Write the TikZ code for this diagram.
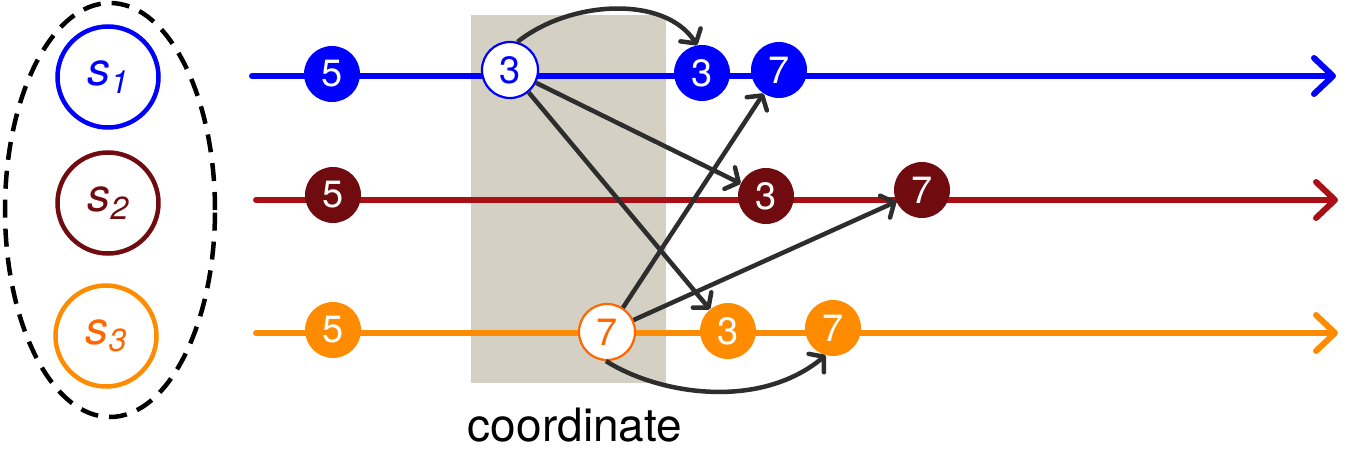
\documentclass[tikz,border=0pt]{standalone}
\usepackage{fontspec}
\setmainfont{TeX Gyre Heros}
\usetikzlibrary{arrows.meta,shapes.geometric}
\definecolor{pblue}{RGB}{0,0,255}
\definecolor{pred}{RGB}{168,16,22}
\definecolor{pmaroon}{RGB}{112,12,16}
\definecolor{porange}{RGB}{255,140,0}
\definecolor{porangetxt}{RGB}{255,102,0}
\definecolor{pgrey}{RGB}{212,208,196}
\definecolor{pdark}{RGB}{45,45,45}
\tikzset{
  proc/.style={circle,line width=4.5pt,minimum size=101pt,inner sep=0pt,
    font=\fontsize{46}{50}\selectfont\itshape},
  ev/.style={circle,minimum size=56pt,inner sep=0pt,text=white,
    font=\fontsize{38}{42}\selectfont},
  hollow/.style={circle,minimum size=56pt,inner sep=0pt,fill=white,line width=2.2pt,
    font=\fontsize{38}{42}\selectfont},
  timeline/.style={line width=6pt,line cap=round,
    -{Straight Barb[length=19pt,width=36pt,line cap=round,line join=round]}},
  msg/.style={pdark,line width=4.5pt,
    -{Straight Barb[length=10pt,width=24pt,line cap=round,line join=round]}}
}
\newcommand{\procname}[1]{s\raisebox{-0.3ex}{\fontsize{32}{32}\selectfont #1}}
\begin{document}
\begin{tikzpicture}[x=1pt,y=-1pt]
\useasboundingbox (0,0) rectangle (1346,449);

% coordination window
\fill[pgrey] (471,15) rectangle (666,383);
\node[font=\fontsize{46}{50}\selectfont,anchor=base,inner sep=0pt] (coordlabel) at (575,441) {coordinate};

% process group
\node[ellipse,draw,dashed,line width=4.5pt,dash pattern=on 18pt off 11pt,
  minimum width=210pt,minimum height=414pt,inner sep=0pt] (group) at (110,210) {};
\node[proc,draw=pblue,text=pblue] (p1) at (108,77) {\procname{1}};
\node[proc,draw=pmaroon,text=pmaroon] (p2) at (108,203) {\procname{2}};
\node[proc,draw=porange,text=porangetxt] (p3) at (106,336) {\procname{3}};

% timelines
\coordinate (l1s) at (252,76);  \coordinate (l1e) at (1336,76);
\coordinate (l2s) at (256,200); \coordinate (l2e) at (1338,200);
\coordinate (l3s) at (256,333); \coordinate (l3e) at (1338,333);
\draw[timeline,pblue] (l1s) -- (l1e);
\draw[timeline,pred] (l2s) -- (l2e);
\draw[timeline,porange] (l3s) -- (l3e);

% events on s1
\node[ev,fill=pblue] (b5) at (332,74) {5};
\node[hollow,draw=pblue,text=pblue] (b3h) at (510,70) {3};
\node[ev,fill=pblue] (b3) at (702,73) {3};
\node[ev,fill=pblue] (b7) at (779,70) {7};

% events on s2
\node[ev,fill=pmaroon] (r5) at (333,195) {5};
\node[ev,fill=pmaroon] (r3) at (766,196) {3};
\node[ev,fill=pmaroon] (r7) at (922,190) {7};

% events on s3
\node[ev,fill=porange] (o5) at (333,330) {5};
\node[hollow,draw=porangetxt,text=porangetxt] (o7h) at (607,332) {7};
\node[ev,fill=porange] (o3) at (728,331) {3};
\node[ev,fill=porange] (o7) at (833,328) {7};

% messages
\draw[msg] (b3h.75) .. controls (570,0) and (665,-5) .. (b3.100);
\draw[msg] (b3h) -- (r3);
\draw[msg] (b3h) -- (o3);
\draw[msg] (o7h) -- (b7);
\draw[msg] (o7h) -- (r7);
\draw[msg] (o7h.268) .. controls (660,395) and (760,410) .. (o7.255);
\end{tikzpicture}
\end{document}
